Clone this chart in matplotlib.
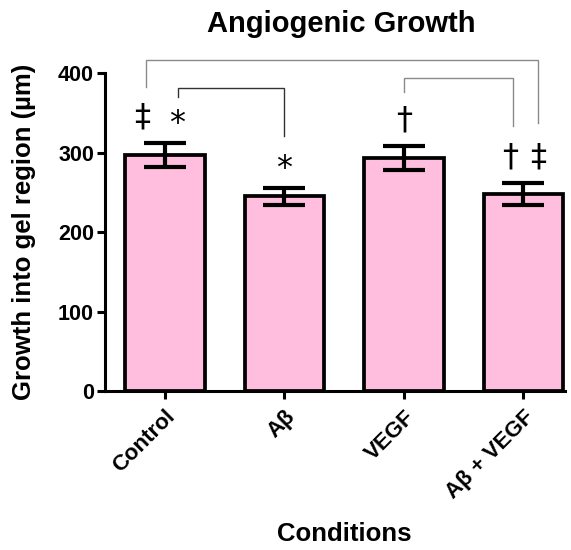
import matplotlib
matplotlib.use('Agg')
import matplotlib.pyplot as plt
import numpy as np

plt.rcParams['font.family'] = ['Liberation Sans', 'DejaVu Sans']

conditions = ['Control', 'Aβ', 'VEGF', 'Aβ + VEGF']
growth = [297, 245, 293, 248]
sem = [15, 10.5, 15, 13.5]
y_ticks = [0, 100, 200, 300, 400]

# significance marks over bars: (bar index, symbol, x shift)
marks = [(0, '‡', -0.19), (0, '*', 0.10), (1, '*', 0.0),
         (2, '†', 0.0), (3, '†', -0.11), (3, '‡', 0.125)]

fig = plt.figure(figsize=(5.71, 5.5), dpi=100)
ax = fig.add_axes([0.184, 0.289, 0.806, 0.578])

x = np.arange(len(conditions))
tops = np.array(growth) + np.array(sem)

ax.bar(x, growth, width=0.667, color='#FFBEDD', edgecolor='black', linewidth=2.7, zorder=2)
ax.errorbar(x, growth, yerr=sem, fmt='none', ecolor='black', elinewidth=3,
            capsize=15, capthick=3, zorder=3)

for i, sym, dx in marks:
    # asterisks sit a bit lower than the daggers
    dy = -8 if sym == '*' else 0
    ax.text(i + dx, tops[i] + 33 + dy, sym, ha='center', va='center', fontsize=23,
            family=['DejaVu Sans'], clip_on=False)


def bracket(x0, x1, top, y0, y1, color, lw=1.0):
    ax.plot([x0, x0, x1, x1], [y0, top, top, y1], color=color, lw=lw,
            clip_on=False, solid_joinstyle='miter')


# Control vs Aβ + VEGF
bracket(-0.16, 3.125, 416, tops[0] + 70, tops[3] + 76, '#8a8a8a')
# Control vs Aβ
bracket(0.11, 1.0, 381, tops[0] + 58, tops[1] + 66, '#333333')
# VEGF vs Aβ + VEGF
bracket(2.0, 2.91, 394, tops[2] + 68, tops[3] + 72, '#8a8a8a')

ax.set_xlim(-0.5, 3.35)
ax.set_ylim(0, 400)
ax.set_yticks(y_ticks)
ax.set_xticks(x)
ax.set_xticklabels(conditions, rotation=45, ha='right', rotation_mode='anchor',
                   fontsize=16, fontweight='bold')
for lab in ax.get_yticklabels():
    lab.set_fontsize(15.5)
    lab.set_fontweight('bold')

for s in ['top', 'right']:
    ax.spines[s].set_visible(False)
for s in ['left', 'bottom']:
    ax.spines[s].set_linewidth(2.2)
ax.tick_params(axis='both', width=2.2, length=6)
ax.tick_params(axis='x', pad=5)
ax.tick_params(axis='y', pad=2)

fig.text(341 / 571, 1 - 24 / 550, 'Angiogenic Growth', ha='center', va='center',
         fontsize=21, fontweight='bold')
fig.text(344 / 571, 1 - 534 / 550, 'Conditions', ha='center', va='center',
         fontsize=18.5, fontweight='bold')
fig.text(24 / 571, 1 - 232 / 550, 'Growth into gel region (µm)', ha='center', va='center',
         rotation=90, fontsize=18.5, fontweight='bold')

fig.savefig('out.png', dpi=100)
